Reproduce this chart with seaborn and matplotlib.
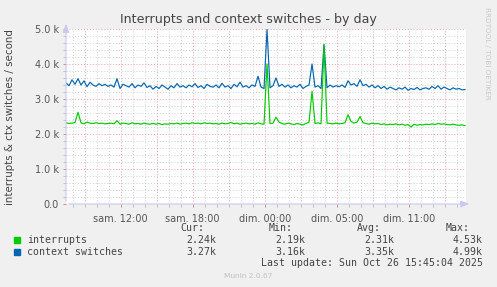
import numpy as np
import pandas as pd
import matplotlib
matplotlib.use("Agg")
import matplotlib.pyplot as plt
from matplotlib.patches import Rectangle
from matplotlib.ticker import MultipleLocator, FixedLocator
import seaborn as sns

# ---------------- data ----------------
start_hour = 7.44      # hours since "sam. 00:00" at the left edge
step_hours = 0.25      # sampling step of the values below
span_hours = 33.33

context_switches = [
    3.46, 3.38, 3.55, 3.42, 3.58, 3.40, 3.52, 3.35, 3.48, 3.40,
    3.36, 3.44, 3.38, 3.42, 3.36, 3.40, 3.34, 3.58, 3.30, 3.42,
    3.38, 3.34, 3.44, 3.32, 3.40, 3.36, 3.46, 3.33, 3.38, 3.28,
    3.36, 3.30, 3.40, 3.34, 3.28, 3.38, 3.32, 3.44, 3.34, 3.38,
    3.32, 3.40, 3.35, 3.44, 3.33, 3.38, 3.30, 3.42, 3.36, 3.34,
    3.40, 3.32, 3.45, 3.34, 3.38, 3.30, 3.42, 3.35, 3.48, 3.34,
    3.38, 3.32, 3.40, 3.36, 3.65, 3.34, 3.30, 4.99, 3.32, 3.38,
    3.60, 3.36, 3.42, 3.34, 3.40, 3.32, 3.38, 3.34, 3.42, 3.30,
    3.36, 3.40, 4.00, 3.34, 3.38, 3.30, 4.56, 3.32, 3.40, 3.34,
    3.38, 3.35, 3.40, 3.33, 3.52, 3.40, 3.44, 3.36, 3.55, 3.38,
    3.42, 3.34, 3.40, 3.32, 3.38, 3.30, 3.36, 3.28, 3.34, 3.30,
    3.26, 3.32, 3.28, 3.34, 3.25, 3.30, 3.27, 3.33, 3.26, 3.30,
    3.32, 3.28, 3.36, 3.30, 3.38, 3.28, 3.34, 3.30, 3.26, 3.32,
    3.28, 3.30, 3.26, 3.27,
]
interrupts = [
    2.32, 2.30, 2.31, 2.33, 2.62, 2.32, 2.29, 2.34, 2.31, 2.30,
    2.32, 2.30, 2.31, 2.29, 2.30, 2.31, 2.29, 2.38, 2.28, 2.31,
    2.30, 2.28, 2.32, 2.29, 2.30, 2.28, 2.31, 2.29, 2.28, 2.30,
    2.28, 2.30, 2.27, 2.29, 2.28, 2.30, 2.29, 2.31, 2.28, 2.30,
    2.31, 2.29, 2.32, 2.30, 2.31, 2.29, 2.32, 2.30, 2.31, 2.29,
    2.30, 2.28, 2.31, 2.29, 2.30, 2.33, 2.29, 2.31, 2.28, 2.30,
    2.31, 2.29, 2.30, 2.28, 2.32, 2.29, 2.28, 4.00, 2.30, 2.31,
    2.48, 2.34, 2.30, 2.28, 2.31, 2.29, 2.27, 2.30, 2.28, 2.26,
    2.30, 2.34, 3.22, 2.30, 2.32, 2.29, 4.53, 2.31, 2.30, 2.29,
    2.31, 2.29, 2.30, 2.32, 2.55, 2.36, 2.31, 2.34, 2.50, 2.32,
    2.30, 2.28, 2.31, 2.29, 2.30, 2.27, 2.29, 2.26, 2.28, 2.27,
    2.29, 2.26, 2.28, 2.25, 2.27, 2.20, 2.28, 2.25, 2.27, 2.26,
    2.28, 2.27, 2.29, 2.27, 2.30, 2.28, 2.29, 2.27, 2.26, 2.28,
    2.26, 2.25, 2.26, 2.24,
]

tick_hours = [12, 18, 24, 30, 36]
tick_labels = ["sam. 12:00", "sam. 18:00", "dim. 00:00", "dim. 05:00", "dim. 11:00"]
ytick_values = [0, 1, 2, 3, 4, 5]
ytick_labels = ["0.0", "1.0 k", "2.0 k", "3.0 k", "4.0 k", "5.0 k"]

series_names = ["interrupts", "context switches"]
series_colors = ["#00CC00", "#0066B3"]
stat_cur = ["2.24k", "3.27k"]
stat_min = ["2.19k", "3.16k"]
stat_avg = ["2.31k", "3.35k"]
stat_max = ["4.53k", "4.99k"]

title = "Interrupts and context switches - by day"
ylabel = "interrupts & ctx switches / second"
last_update = "Last update: Sun Oct 26 15:45:04 2025"
footer = "Munin 2.0.67"
side_text = "RRDTOOL / TOBI OETIKER"

# ---------------- figure ----------------
W, H = 497, 287
fig = plt.figure(figsize=(W / 100, H / 100), dpi=100, facecolor="#F0F0F0")
L, T, PW, PH = 66, 29, 400, 175
ax = fig.add_axes([L / W, (H - T - PH) / H, PW / W, PH / H])
ax.set_facecolor("white")

times = start_hour + np.arange(len(interrupts)) * step_hours
df = pd.DataFrame({
    "time": np.concatenate([times, times]),
    "value": context_switches + interrupts,
    "series": ["context switches"] * len(times) + ["interrupts"] * len(times),
})
sns.lineplot(data=df, x="time", y="value", hue="series",
             hue_order=["context switches", "interrupts"],
             palette={"interrupts": series_colors[0], "context switches": series_colors[1]},
             linewidth=0.85, legend=False, ax=ax, zorder=5)

ax.set_xlim(start_hour, start_hour + span_hours)
ax.set_ylim(0, 5)

ax.xaxis.set_major_locator(FixedLocator(tick_hours))
ax.set_xticklabels(tick_labels)
ax.xaxis.set_minor_locator(MultipleLocator(1))
ax.yaxis.set_major_locator(FixedLocator(ytick_values))
ax.set_yticklabels(ytick_labels)
ax.yaxis.set_minor_locator(MultipleLocator(0.2))

dot = (0, (1, 2))
for h in np.arange(8, 41, 1):
    if h % 3 == 0:
        ax.axvline(h, color="#F0A0A0", lw=0.7, ls=dot, zorder=2)
    else:
        ax.axvline(h, color="#CFCFCF", lw=0.7, ls=dot, zorder=1)
for v in np.arange(0.2, 5.01, 0.2):
    if abs(v - round(v)) < 1e-6:
        ax.axhline(v, color="#F0A0A0", lw=0.7, ls=dot, zorder=2)
    else:
        ax.axhline(v, color="#CFCFCF", lw=0.7, ls=dot, zorder=1)

for s in ax.spines.values():
    s.set_visible(False)
ax.tick_params(axis="both", which="both", labelsize=7, labelcolor="#555555", length=2, width=0.6)
ax.tick_params(axis="x", which="major", colors="#E07070", labelcolor="#555555", pad=5)
ax.tick_params(axis="x", which="minor", colors="#BBBBBB")
ax.tick_params(axis="y", which="major", colors="#E07070", labelcolor="#555555", pad=3)
ax.tick_params(axis="y", which="minor", colors="#BBBBBB")
ax.set_xlabel("")
ax.set_ylabel("")

axis_col = "#C8C8F0"
ax.annotate("", xy=(0, 1.045), xytext=(0, 0), xycoords="axes fraction",
            arrowprops=dict(arrowstyle="-|>,head_length=0.5,head_width=0.2", color=axis_col, lw=0.8),
            annotation_clip=False, zorder=6)
ax.annotate("", xy=(1.015, 0), xytext=(0, 0), xycoords="axes fraction",
            arrowprops=dict(arrowstyle="-|>,head_length=0.5,head_width=0.2", color=axis_col, lw=0.8),
            annotation_clip=False, zorder=6)

fig.text(248 / W, 1 - 19 / H, title, ha="center", va="center", fontsize=9.1, color="#444444")
fig.text(10 / W, 1 - 117 / H, ylabel, rotation=90, ha="center", va="center", fontsize=7.4, color="#444444")
fig.text(487 / W, 1 - 53 / H, side_text, rotation=270, ha="center", va="center", fontsize=5.2, color="#C8C8C8")

mono = dict(family="DejaVu Sans Mono", fontsize=7.1, color="#444444", va="center")
hdr_y = 227.7
fig.text(204 / W, 1 - hdr_y / H, "Cur:", ha="right", **mono)
fig.text(293 / W, 1 - hdr_y / H, "Min:", ha="right", **mono)
fig.text(381 / W, 1 - hdr_y / H, "Avg:", ha="right", **mono)
fig.text(470 / W, 1 - hdr_y / H, "Max:", ha="right", **mono)
row_y = [239.7, 251.7]
for i in range(2):
    y = row_y[i]
    fig.patches.append(Rectangle((14 / W, 1 - (y + 3) / H), 6 / W, 6 / H,
                                 transform=fig.transFigure, color=series_colors[i]))
    fig.text(26.7 / W, 1 - y / H, series_names[i], ha="left", **mono)
    fig.text(216.7 / W, 1 - y / H, stat_cur[i], ha="right", **mono)
    fig.text(305.7 / W, 1 - y / H, stat_min[i], ha="right", **mono)
    fig.text(394 / W, 1 - y / H, stat_avg[i], ha="right", **mono)
    fig.text(482.7 / W, 1 - y / H, stat_max[i], ha="right", **mono)
fig.text(482.7 / W, 1 - 263.3 / H, last_update, ha="right", **mono)
fig.text(248 / W, 1 - 276 / H, footer, ha="center", va="center", fontsize=5.3, color="#C0C0C0")

fig.savefig("out.png", dpi=100, facecolor=fig.get_facecolor())
